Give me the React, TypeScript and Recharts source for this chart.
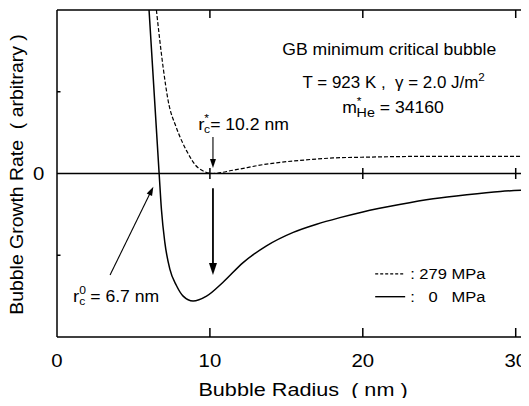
import React from 'react';
import { LineChart, Line, XAxis, YAxis, ReferenceLine, ReferenceDot } from 'recharts';

const FONT = '"Liberation Sans", Arial, Helvetica, sans-serif';

// 0 MPa (solid) curve
const radius0MPa = [6.02, 6.68, 6.83, 7.05, 7.38, 7.81, 8.25, 8.9, 9.78, 10.86, 12.17, 13.7, 15.45, 16.98, 18.5, 20, 22.4, 24.6, 26.8, 29, 31];
const rate0MPa = [2.0, 0.0, -0.44, -0.84, -1.17, -1.37, -1.5, -1.56, -1.5, -1.33, -1.09, -0.885, -0.72, -0.62, -0.54, -0.47, -0.38, -0.31, -0.26, -0.22, -0.2];
// 279 MPa (dashed) curve
const radius279MPa = [6.5, 6.94, 7.27, 7.81, 8.47, 9.23, 10.2, 11.52, 13.7, 15.88, 18.06, 20.25, 24.6, 31];
const rate279MPa = [2.0, 1.3, 0.89, 0.56, 0.28, 0.07, 0.0, 0.04, 0.115, 0.16, 0.19, 0.2, 0.21, 0.21];

const xTicks = [0, 10, 20, 30];
const yTicks = [0];
const innerXTicks = [10, 20, 30];
const minorYTicks = [-1, 1];

const data0 = radius0MPa.map((x, i) => ({ x, y: rate0MPa[i] }));
const data279 = radius279MPa.map((x, i) => ({ x, y: rate279MPa[i] }));

const SX = 1.1;

const XTick = (p: any) => (
  <g transform={`translate(${p.x},${p.y + 29.7}) scale(${SX},1)`}>
    <text x={0} y={0} textAnchor="middle" fontSize={18.5} fontFamily={FONT} fill="#000">
      {p.payload.value}
    </text>
  </g>
);

const YTick = (p: any) => (
  <g transform={`translate(${p.x - 12.7},${p.y + 6.6}) scale(${SX},1)`}>
    <text x={0} y={0} textAnchor="end" fontSize={18.5} fontFamily={FONT} fill="#000">
      {p.payload.value}
    </text>
  </g>
);

const XTitle = (props: any) => {
  const vb = props.viewBox || { x: 57, y: 329, width: 474, height: 60 };
  return (
    <g transform={`translate(${vb.x + vb.width / 2 + 9},${vb.y + 59}) scale(1.17,1)`}>
      <text x={0} y={0} textAnchor="middle" fontSize={18.5} fontFamily={FONT} fill="#000" style={{ whiteSpace: 'pre' }}>
        {'Bubble Radius  ( nm )'}
      </text>
    </g>
  );
};

const YTitle = (props: any) => {
  const vb = props.viewBox || { x: 8, y: 2, width: 49, height: 327 };
  return (
    <g transform={`translate(${vb.x + 15},${vb.y + vb.height / 2 + 1}) rotate(-90) scale(1.05,1)`}>
      <text x={0} y={0} textAnchor="middle" fontSize={18.5} fontFamily={FONT} fill="#000" style={{ whiteSpace: 'pre' }}>
        {'Bubble Growth Rate  ( arbitrary )'}
      </text>
    </g>
  );
};

const xTickShape = (p: any) => {
  const x = p.x1;
  const top = Math.min(p.y1, p.y2);
  const bot = Math.max(p.y1, p.y2);
  const mid = (top + bot) / 2;
  return (
    <g stroke="#000" strokeWidth={1.5}>
      <line x1={x} x2={x} y1={top} y2={top + 8} />
      <line x1={x} x2={x} y1={mid - 5.5} y2={mid + 5.5} />
      <line x1={x} x2={x} y1={bot} y2={bot - 9} />
    </g>
  );
};

const yTickShape = (p: any) => {
  const x = Math.min(p.x1, p.x2);
  return <line x1={x} x2={x + 3.5} y1={p.y1} y2={p.y1} stroke="#000" strokeWidth={1.5} />;
};

const arrowShape = (head: number, width: number, sw: number) => (p: any) => {
  const { x1, y1, x2, y2 } = p;
  const dx = x2 - x1;
  const dy = y2 - y1;
  const L = Math.hypot(dx, dy) || 1;
  const ux = dx / L;
  const uy = dy / L;
  const bx = x2 - ux * head;
  const by = y2 - uy * head;
  const px = (-uy * width) / 2;
  const py = (ux * width) / 2;
  return (
    <g>
      <line x1={x1} y1={y1} x2={bx + ux * 1} y2={by + uy * 1} stroke="#000" strokeWidth={sw} />
      <polygon points={`${x2},${y2} ${bx + px},${by + py} ${bx - px},${by - py}`} fill="#000" />
    </g>
  );
};

const txt = (content: React.ReactNode, opts: { anchor?: string; size?: number; sx?: number } = {}) => (p: any) => (
  <g transform={`translate(${p.cx},${p.cy}) scale(${opts.sx ?? SX},1)`}>
    <text
      x={0}
      y={0}
      textAnchor={opts.anchor ?? 'start'}
      fontSize={opts.size ?? 16}
      fontFamily={FONT}
      fill="#000"
      style={{ whiteSpace: 'pre' }}
    >
      {content}
    </text>
  </g>
);

export default function App() {
  return (
    <div style={{ width: 529, height: 398, marginLeft: -8, marginRight: -8, marginBottom: -8, overflow: 'hidden' }}>
      <LineChart width={539} height={398} margin={{ top: 2, right: 8, bottom: 9, left: 8 }}>
        <XAxis
          type="number"
          dataKey="x"
          domain={[0, 31]}
          ticks={xTicks}
          allowDataOverflow
          tickLine={false}
          tickSize={0}
          tickMargin={0}
          height={60}
          axisLine={{ stroke: '#000', strokeWidth: 1.5 }}
          tick={XTick}
          label={{ content: XTitle }}
        />
        <YAxis
          type="number"
          dataKey="y"
          domain={[-2, 2]}
          ticks={yTicks}
          allowDataOverflow
          tickLine={false}
          tickSize={0}
          tickMargin={0}
          width={49}
          axisLine={{ stroke: '#000', strokeWidth: 1.5 }}
          tick={YTick}
          label={{ content: YTitle }}
        />
        <ReferenceLine y={2} stroke="#000" strokeWidth={1.5} />
        <ReferenceLine y={0} stroke="#000" strokeWidth={1.5} />
        {innerXTicks.map((t) => (
          <ReferenceLine key={'xt' + t} x={t} shape={xTickShape} />
        ))}
        {minorYTicks.map((t) => (
          <ReferenceLine key={'yt' + t} y={t} shape={yTickShape} />
        ))}

        <Line
          data={data279}
          dataKey="y"
          type="monotone"
          stroke="#000"
          strokeWidth={1.2}
          strokeDasharray="4 2"
          dot={false}
          activeDot={false}
          isAnimationActive={false}
        />
        <Line
          data={data0}
          dataKey="y"
          type="monotone"
          stroke="#000"
          strokeWidth={1.5}
          dot={false}
          activeDot={false}
          isAnimationActive={false}
        />

        {/* arrows */}
        <ReferenceLine segment={[{ x: 10.2, y: 0.446 }, { x: 10.2, y: 0.067 }]} shape={arrowShape(9, 6, 1.1)} />
        <ReferenceLine segment={[{ x: 10.2, y: -0.181 }, { x: 10.2, y: -1.242 }]} shape={arrowShape(12, 8, 1.8)} />
        <ReferenceLine segment={[{ x: 3.47, y: -1.242 }, { x: 6.3, y: -0.161 }]} shape={arrowShape(9, 6, 1.1)} />

        {/* legend samples */}
        <ReferenceLine segment={[{ x: 20.81, y: -1.229 }, { x: 22.77, y: -1.229 }]} stroke="#000" strokeWidth={1.2} strokeDasharray="3 2" />
        <ReferenceLine segment={[{ x: 20.81, y: -1.507 }, { x: 22.77, y: -1.507 }]} stroke="#000" strokeWidth={1.4} />
        <ReferenceDot x={23.1} y={-1.291} r={0} shape={txt(': 279 MPa', { size: 15 })} />
        <ReferenceDot x={23.1} y={-1.572} r={0} shape={txt(':   0   MPa', { size: 15 })} />

        {/* annotations */}
        <ReferenceDot x={21.73} y={1.449} r={0} shape={txt('GB minimum critical bubble', { anchor: 'middle' })} />
        <ReferenceDot
          x={22.02}
          y={1.046}
          r={0}
          shape={txt(
            <>
              <tspan>{'T = 923 K ,  γ = 2.0 J/m'}</tspan>
              <tspan dy={-7} fontSize={11}>2</tspan>
            </>,
            { anchor: 'middle', sx: 1.06 }
          )}
        />
        <ReferenceDot
          x={18.65}
          y={0.74}
          r={0}
          shape={txt(
            <>
              <tspan>m</tspan>
              <tspan dy={-8} fontSize={11}>*</tspan>
              <tspan dx={-4.5} dy={12} fontSize={13}>He</tspan>
              <tspan dy={-4}>{' = 34160'}</tspan>
            </>
          )}
        />
        <ReferenceDot
          x={9.23}
          y={0.532}
          r={0}
          shape={txt(
            <>
              <tspan fontSize={17}>r</tspan>
              <tspan dy={-8} fontSize={11}>*</tspan>
              <tspan dx={-4.5} dy={11} fontSize={11}>c</tspan>
              <tspan dy={-3}>{'= 10.2 nm'}</tspan>
            </>
          )}
        />
        <ReferenceDot
          x={1.047}
          y={-1.572}
          r={0}
          shape={txt(
            <>
              <tspan fontSize={17}>r</tspan>
              <tspan dy={-8} fontSize={11}>0</tspan>
              <tspan dx={-6} dy={11} fontSize={11}>c</tspan>
              <tspan dy={-3}>{' = 6.7 nm'}</tspan>
            </>
          )}
        />
      </LineChart>
    </div>
  );
}
